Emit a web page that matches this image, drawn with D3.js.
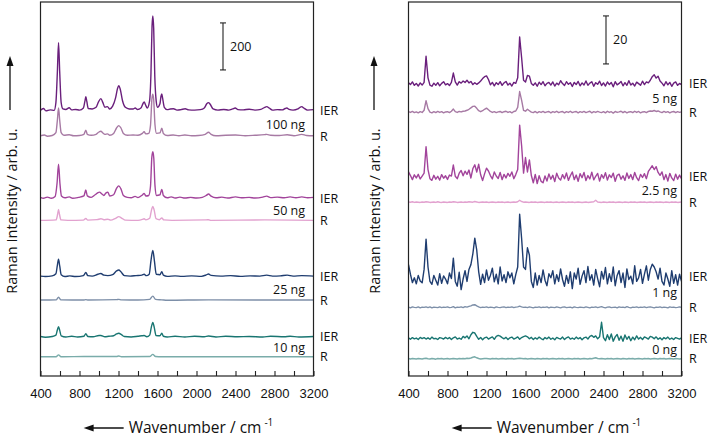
<!DOCTYPE html>
<html><head><meta charset="utf-8">
<script src="https://cdn.jsdelivr.net/npm/d3@7/dist/d3.min.js"></script>
<style>body{margin:0;background:#fff}svg{display:block}</style>
</head><body><svg id="c" width="708" height="437"></svg>
<script>
// ---------- DATA ----------
const xTickValues = [400,600,800,1000,1200,1400,1600,1800,2000,2200,2400,2600,2800,3000,3200];
const xTickLabels = [400,800,1200,1600,2000,2400,2800,3200];
const traceNames = ["IER","R"];
const leftAmounts = ["100 ng","50 ng","25 ng","10 ng"];
const rightAmounts = ["5 ng","2.5 ng","1 ng","0 ng"];
// baseline offsets (counts) for IER/R traces top to bottom
const leftOffsets = [1128,1020,756,661,423,322,166,81];
const rightOffsets = [121.7,109.9,83.0,72.4,41.4,28.6,15.7,7.2];
const leftScaleBar = [1302,1502];   // 200 counts
const rightScaleBar = [130,150];    // 20 counts

// left panel spectra: [wavenumber, intensity above baseline]
const ier100 = [[400,2],[430,10],[455,0],[500,4],[540,2],[558,35],[573,165],[585,290],[597,165],[612,35],[630,8],[660,6],[694,13],[720,4],[760,6],[800,3],[840,12],[855,40],[865,60],[875,40],[890,10],[930,8],[970,15],[995,38],[1019,52],[1040,35],[1060,15],[1087,18],[1110,8],[1140,20],[1170,55],[1190,95],[1203,107],[1218,92],[1240,45],[1270,15],[1310,8],[1350,8],[1371,12],[1395,6],[1430,12],[1450,30],[1463,38],[1478,25],[1495,12],[1518,40],[1533,160],[1544,360],[1552,404],[1561,350],[1572,150],[1587,40],[1600,15],[1625,30],[1636,62],[1644,72],[1652,55],[1670,15],[1700,5],[1730,8],[1764,9],[1800,3],[1840,5],[1884,9],[1920,4],[1980,3],[2040,5],[2080,12],[2105,30],[2123,35],[2140,28],[2170,8],[2220,3],[2280,6],[2330,3],[2370,8],[2397,12],[2425,5],[2480,4],[2540,7],[2600,3],[2660,6],[2700,15],[2721,18],[2745,12],[2780,3],[2830,5],[2880,4],[2910,10],[2926,12],[2950,6],[2990,3],[3040,8],[3065,16],[3080,18],[3100,12],[3140,3],[3200,5]];
const r100 = [[400,2],[440,5],[470,0],[520,3],[558,15],[573,68],[585,120],[597,68],[612,15],[640,4],[694,6],[740,2],[800,3],[845,8],[865,26],[880,8],[920,4],[970,8],[1000,18],[1019,21],[1040,14],[1060,8],[1087,10],[1110,4],[1150,12],[1180,35],[1203,45],[1225,35],[1250,12],[1290,4],[1350,5],[1400,4],[1445,12],[1463,19],[1480,10],[1510,12],[1528,45],[1543,160],[1552,179],[1561,155],[1574,50],[1590,12],[1625,14],[1644,34],[1660,12],[1700,3],[1760,5],[1820,2],[1880,5],[1950,2],[2020,3],[2090,8],[2123,17],[2150,8],[2200,2],[2300,4],[2400,5],[2500,2],[2600,4],[2700,7],[2721,8],[2760,4],[2850,3],[2930,6],[3000,2],[3080,8],[3130,3],[3200,2]];
const ier50 = [[400,4],[430,0],[470,5],[510,0],[550,8],[570,65],[585,145],[599,65],[615,10],[650,2],[694,6],[730,0],[790,4],[845,10],[865,35],[880,10],[920,4],[960,15],[990,24],[1005,26],[1030,18],[1050,12],[1070,22],[1090,26],[1110,10],[1150,15],[1180,42],[1203,53],[1225,40],[1250,12],[1290,4],[1330,2],[1370,8],[1400,3],[1445,14],[1463,21],[1480,10],[1510,12],[1528,50],[1542,175],[1552,198],[1562,170],[1574,55],[1590,12],[1625,15],[1644,38],[1660,12],[1700,2],[1740,6],[1780,1],[1830,5],[1880,1],[1940,4],[2000,1],[2060,4],[2100,12],[2123,18],[2150,9],[2200,2],[2260,5],[2320,1],[2400,6],[2460,2],[2540,4],[2600,1],[2680,5],[2720,9],[2760,3],[2830,5],[2900,2],[2960,6],[3020,2],[3080,6],[3140,2],[3200,4]];
const r50 = [[400,1],[560,3],[575,26],[585,48],[595,26],[610,3],[680,1],[840,2],[865,9],[885,2],[980,4],[1020,8],[1050,4],[1090,6],[1120,2],[1170,10],[1203,17],[1235,10],[1270,2],[1400,1],[1445,5],[1463,8],[1480,3],[1520,10],[1540,48],[1552,60],[1564,48],[1585,8],[1620,4],[1644,11],[1665,3],[1750,1],[2100,3],[2123,4],[2150,1],[2700,3],[3200,1]];
const ier25 = [[400,2],[450,0],[520,3],[558,12],[573,48],[585,74],[597,45],[612,8],[650,0],[700,3],[760,0],[840,4],[865,17],[885,4],[930,2],[990,10],[1019,13],[1050,6],[1090,4],[1140,8],[1180,24],[1203,28],[1225,20],[1260,4],[1320,2],[1380,4],[1440,6],[1463,10],[1485,4],[1515,10],[1533,68],[1552,111],[1568,68],[1587,10],[1625,8],[1644,21],[1660,6],[1700,1],[1780,3],[1850,1],[1950,3],[2050,1],[2100,7],[2123,11],[2150,5],[2250,2],[2350,4],[2450,1],[2550,3],[2650,2],[2720,6],[2780,2],[2860,3],[2930,6],[2990,2],[3080,4],[3200,2]];
const r25 = [[400,1],[560,2],[585,13],[610,2],[840,1],[865,3],[890,1],[1180,3],[1203,4],[1230,2],[1400,1],[1520,4],[1552,18],[1580,4],[1644,2],[1700,0],[2123,2],[3200,1]];
const ier10 = [[400,2],[450,-1],[520,2],[558,8],[573,30],[585,44],[597,28],[612,5],[660,0],[720,3],[780,0],[845,3],[865,14],[885,2],[940,1],[1000,6],[1019,6],[1060,1],[1100,3],[1150,5],[1180,13],[1203,16],[1230,10],[1260,2],[1330,0],[1400,3],[1440,5],[1463,6],[1490,1],[1520,8],[1537,42],[1552,62],[1567,40],[1585,6],[1625,5],[1644,16],[1660,3],[1700,0],[1780,3],[1880,0],[1980,3],[2080,1],[2123,4],[2200,0],[2300,3],[2420,1],[2540,2],[2680,0],[2760,3],[2900,1],[2960,3],[3050,0],[3200,2]];
const r10 = [[400,1],[560,1],[585,9],[610,1],[865,2],[1180,2],[1203,4],[1230,1],[1520,2],[1552,11],[1580,2],[1644,1],[3200,1]];

// right panel spectra: intensities every 20 cm-1 from 400 to 3200
const rightGridStart = 400, rightGridStep = 20;
const ier5 = [
0.5,-0.3,0.8,-0.6,0.2,-0.9,0.4,-0.5,0.6,11.5,
2.5,-0.5,-1.0,0.3,-0.6,0.5,-0.8,0.2,0.9,-0.4,
0.1,-0.7,0.6,4.5,0.8,-0.5,0.9,0.3,1.2,0.6,
1.5,0.4,1.0,-0.3,0.5,-0.2,0.4,1.2,2.2,3.0,
3.3,1.8,-0.4,0.6,-0.8,0.5,-0.3,0.9,-0.6,0.4,
1.0,-0.5,0.3,-0.9,0.6,0.2,2.5,19.5,11.0,1.5,
0.8,3.5,3.2,0.2,-0.6,0.4,-1.0,0.7,-0.3,0.9,
-0.8,0.2,0.6,-0.5,0.8,-0.9,0.3,-0.4,1.3,0.1,
-0.7,0.9,-0.2,0.5,-1.1,0.6,-0.3,1.0,-0.8,0.4,
-0.5,1.2,-0.6,0.3,0.9,-1.0,0.5,-0.2,1.1,-0.7,
0.4,-0.9,0.8,-0.3,0.6,-1.2,0.9,-0.4,0.2,1.0,
-0.8,0.5,-0.6,1.3,-0.5,0.3,-0.9,0.7,0.1,-0.6,
1.1,-0.3,0.8,0.4,1.5,3.0,3.8,2.4,3.2,1.2,
0.3,-0.8,0.9,-0.4,0.6,-1.0,0.3,0.8,-0.6,0.2,
-0.3];
const r5 = [
0.2,-0.1,0.3,-0.2,0.1,-0.3,0.2,-0.1,0.8,4.8,
1.5,0.0,-0.3,0.2,-0.2,0.3,-0.1,0.2,-0.3,0.1,
0.2,-0.2,0.4,1.3,0.2,-0.1,0.3,0.1,0.4,0.5,
0.8,1.2,1.8,2.4,2.5,1.6,0.6,0.2,0.6,1.2,
1.7,1.0,0.3,-0.1,0.2,-0.2,0.1,0.3,-0.2,0.2,
0.4,-0.1,0.2,-0.3,0.3,0.5,2.0,8.6,5.0,0.8,
0.4,1.2,0.6,0.0,-0.2,0.3,-0.3,0.2,-0.1,0.3,
-0.2,0.1,0.3,-0.3,0.2,-0.1,0.4,-0.2,0.1,0.3,
-0.3,0.2,-0.1,0.4,-0.2,0.1,0.3,-0.3,0.2,-0.1,
0.3,-0.2,0.1,0.4,-0.3,0.2,-0.1,0.3,0.0,-0.2,
0.2,-0.3,0.4,-0.1,0.2,-0.4,0.3,-0.1,0.1,0.4,
-0.2,0.3,-0.3,0.1,0.2,-0.2,0.4,-0.1,0.3,-0.3,
0.1,0.2,-0.2,0.3,0.5,0.4,0.7,0.3,0.5,0.1,
-0.2,0.3,-0.1,0.2,-0.3,0.1,0.3,-0.2,0.2,-0.1,
0.1];
const ier2p5 = [
2.0,0.5,-1.2,0.8,-0.5,1.0,-0.9,0.3,1.5,12.5,
3.0,-0.8,-1.5,0.6,-1.0,0.2,-1.4,0.9,-0.6,0.4,
-1.1,0.7,0.3,4.9,0.2,-0.8,1.5,2.6,0.4,2.3,
1.0,2.8,-0.5,3.4,5.0,2.0,5.2,0.8,-1.6,1.2,
3.6,2.4,0.5,-0.9,2.0,0.3,-0.7,1.8,-1.2,1.0,
-0.5,1.4,0.2,2.0,-0.8,0.9,3.0,21.5,13.0,1.5,
8.0,2.0,7.0,0.5,-2.5,1.0,-2.8,0.4,-1.9,-2.5,
0.3,-1.8,1.2,-1.0,0.6,-2.0,1.5,-0.5,-1.4,0.9,
-0.8,1.6,-1.5,0.4,2.0,-1.2,0.7,-1.9,1.3,-0.4,
1.8,-1.6,0.5,-0.9,1.9,-1.3,0.2,1.4,-1.8,0.9,
-0.6,1.7,-1.4,0.8,-0.3,1.5,-1.9,0.6,1.1,-1.0,
0.4,-1.5,1.6,-0.7,0.9,-1.2,1.8,-0.4,-1.6,1.0,
-0.3,1.3,-0.8,2.2,3.4,4.6,3.0,4.2,1.8,0.6,
2.0,-1.2,0.9,-1.8,1.4,-0.5,-1.6,1.1,-1.0,0.7,
-0.8];
const r2p5 = [
0.1,0.0,0.2,-0.1,0.1,0.0,-0.1,0.1,0.0,0.2,
0.1,-0.1,0.0,0.1,-0.1,0.2,0.0,-0.1,0.1,0.0,
-0.1,0.1,0.0,0.2,0.1,-0.1,0.0,0.1,-0.1,0.1,
0.0,0.2,0.1,0.0,0.3,0.1,-0.1,0.0,0.1,0.0,
0.1,-0.1,0.0,0.1,0.0,-0.1,0.1,0.0,0.1,-0.1,
0.0,0.1,-0.1,0.0,0.1,0.0,0.2,0.8,0.3,0.0,
0.1,0.0,-0.1,0.1,0.0,0.1,-0.1,0.0,0.1,0.0,
-0.1,0.1,0.0,0.1,-0.1,0.0,0.1,-0.1,0.0,0.1,
0.0,-0.1,0.1,0.0,0.1,-0.1,0.0,0.1,0.0,-0.1,
0.0,0.1,-0.1,0.0,0.1,0.2,0.8,0.1,0.0,-0.1,
0.1,0.0,-0.1,0.1,0.0,0.1,-0.1,0.0,0.1,0.0,
-0.1,0.1,0.0,-0.1,0.1,0.0,0.1,-0.1,0.0,0.1,
0.0,0.1,-0.1,0.0,0.1,0.0,-0.1,0.1,0.0,0.1,
0.0,-0.1,0.1,0.0,-0.1,0.1,0.0,0.1,-0.1,0.0,
0.1];
const ier1 = [
5.0,1.0,-2.5,-0.5,-3.0,0.5,-1.8,-2.6,3.0,15.6,
4.0,-2.0,-3.2,0.5,-1.5,-3.5,1.2,-2.8,0.3,-1.0,
-3.0,1.5,-0.8,7.7,-2.0,-4.0,1.8,-5.4,-1.0,2.5,
-2.0,3.0,5.0,9.5,16.0,11.0,2.0,-3.2,1.0,-2.5,
2.8,-1.5,0.5,3.5,-2.2,1.0,-3.0,4.0,-1.8,0.8,
-2.5,2.0,-0.5,1.5,-3.0,0.8,4.0,26.0,16.0,4.0,
3.0,12.0,9.0,-2.0,-4.5,1.5,-3.5,0.5,-2.5,2.8,
-1.5,-3.8,1.2,-0.5,2.5,-3.0,0.8,-2.0,3.2,-1.2,
-4.0,0.5,-2.8,2.0,-5.0,1.5,-1.0,3.5,-3.2,0.2,
2.5,-2.5,4.2,-1.5,0.8,-3.5,3.0,-0.8,-4.2,2.2,
-1.0,3.8,-3.0,1.2,-2.0,4.0,-3.8,0.5,2.5,-2.5,
1.5,-4.5,3.2,-1.2,0.2,-3.0,4.5,-2.0,-0.5,3.0,
-2.8,1.0,4.5,-1.5,3.0,5.2,4.0,2.0,-1.0,3.5,
-2.0,-3.5,1.5,-1.0,-4.0,2.5,-2.8,0.8,-3.5,1.0,
-2.0];
const r1 = [
0.1,-0.2,0.2,0.0,-0.1,0.2,-0.2,0.1,0.0,0.2,
-0.1,0.2,-0.2,0.1,0.0,-0.1,0.2,-0.1,0.1,0.0,
0.2,-0.1,0.0,0.3,-0.2,0.1,0.0,0.2,-0.1,0.3,
0.1,0.4,0.6,1.0,1.1,0.6,0.2,-0.1,0.1,0.0,
0.2,-0.1,0.1,0.0,-0.2,0.2,0.0,-0.1,0.1,0.2,
-0.1,0.1,0.0,0.2,-0.1,0.1,0.2,0.5,0.2,0.0,
0.1,-0.1,0.2,0.0,-0.2,0.1,0.0,0.2,-0.1,0.1,
0.0,0.2,-0.2,0.1,0.0,-0.1,0.2,0.0,-0.2,0.1,
0.2,-0.1,0.0,0.1,-0.2,0.2,0.0,-0.1,0.1,0.0,
-0.1,0.2,0.0,-0.2,0.1,0.0,0.2,-0.1,0.1,0.3,
0.0,-0.2,0.1,0.2,-0.1,0.0,0.1,-0.2,0.2,0.0,
0.1,-0.1,0.3,0.0,-0.2,0.1,0.0,0.2,-0.1,0.1,
0.0,0.2,-0.1,0.1,0.2,0.0,-0.2,0.1,0.0,0.2,
-0.1,0.1,0.0,-0.2,0.2,0.0,0.1,-0.1,0.0,0.2,
0.0];
const ier0 = [
0.2,-0.4,0.3,-0.2,0.1,-0.5,0.4,-0.1,0.3,-0.3,
0.2,-0.4,0.5,-0.2,0.0,-0.5,0.3,0.1,-0.3,0.4,
-0.2,0.3,-0.5,0.2,0.6,-0.3,0.1,-0.4,0.8,0.2,
1.0,-0.2,1.5,2.5,2.2,0.8,-0.4,0.3,-0.6,0.2,
0.5,-0.3,0.2,0.6,-0.4,0.8,1.2,0.9,0.3,-0.2,
0.4,-0.5,0.2,0.5,-0.3,0.1,0.6,-0.4,0.3,0.7,
1.0,0.6,-0.2,0.4,-0.5,0.2,-0.3,0.5,-0.1,-0.6,
0.3,-0.2,0.5,-0.4,0.1,-0.6,0.4,0.0,-0.3,0.5,
-0.5,0.2,0.6,-0.3,0.1,-0.4,0.5,-0.2,0.3,-0.6,
0.2,0.5,-0.3,0.8,1.2,0.4,1.0,-0.2,0.6,6.7,
0.3,-1.0,1.5,-0.5,1.8,-1.2,0.6,1.6,-0.8,0.9,
-1.2,1.4,-0.4,0.8,-1.0,0.5,-0.6,1.0,-0.3,0.4,
-0.5,0.6,0.2,-0.3,0.8,0.5,-0.2,0.6,-0.4,0.2,
-0.6,0.3,-0.2,0.5,-0.4,0.1,-0.5,0.3,0.0,-0.3,
0.2];
const r0 = [
0.1,-0.1,0.1,0.0,-0.1,0.1,0.0,-0.1,0.1,0.2,
0.0,-0.1,0.1,0.0,-0.2,0.1,0.0,0.1,-0.1,0.0,
0.1,-0.1,0.0,0.1,0.0,-0.1,0.1,0.0,0.1,0.0,
0.2,0.1,0.3,0.6,0.8,0.4,0.1,-0.1,0.0,0.1,
0.1,0.0,-0.1,0.1,0.0,0.1,-0.1,0.0,0.1,0.0,
-0.1,0.1,0.0,0.1,-0.1,0.0,0.1,0.2,0.1,0.0,
0.1,-0.1,0.0,0.1,0.0,-0.1,0.1,0.0,-0.1,0.1,
0.0,0.1,-0.1,0.0,0.1,0.0,-0.1,0.1,0.0,0.1,
-0.1,0.0,0.1,0.0,-0.1,0.1,0.0,0.1,-0.1,0.0,
0.1,0.0,-0.1,0.1,0.0,0.2,0.4,0.1,0.0,0.1,
0.0,-0.1,0.1,0.0,0.1,-0.1,0.0,0.1,0.0,-0.1,
0.1,0.0,-0.1,0.1,0.0,0.1,-0.1,0.0,0.1,0.0,
-0.1,0.1,0.0,0.1,-0.1,0.0,0.1,0.0,-0.1,0.1,
0.0,0.1,-0.1,0.0,0.1,0.0,-0.1,0.1,0.0,-0.1,
0.0];

// ---------- STYLE ----------
const traceColors = ["#6a1f7c","#a77aa4","#a2449b","#e2a2cf","#1f3d70","#7d8fa8","#187571","#7aacaa"];
const FONT = "'Open Sans', 'Noto Sans', sans-serif";
const TICKFONT = "'Liberation Sans', Arial, sans-serif";

const gridToPoints = vals => vals.map((v,i) => [rightGridStart + i*rightGridStep, v]);

const panels = [
  {x0:40.5, x1:313.5, yMax:1591, amounts:leftAmounts, offsets:leftOffsets,
   series:[ier100,r100,ier50,r50,ier25,r25,ier10,r10], curve:d3.curveMonotoneX,
   bar:leftScaleBar, barLabel:"200", barX:223, amountRight:305, sideX:320, titleX:16.5, arrowX:10},
  {x0:408.5, x1:681.5, yMax:155.8, amounts:rightAmounts, offsets:rightOffsets,
   series:[ier5,r5,ier2p5,r2p5,ier1,r1,ier0,r0].map(gridToPoints), curve:d3.curveLinear,
   bar:rightScaleBar, barLabel:"20", barX:606, amountRight:677, sideX:689, titleX:380, arrowX:374}
];

const svg = d3.select("#c");
const yTop = 2, yBot = 376;

panels.forEach((p, pi) => {
  const x = d3.scaleLinear().domain([400,3200]).range([p.x0, p.x1]);
  const y = d3.scaleLinear().domain([0, p.yMax]).range([yBot, yTop]);
  const g = svg.append("g");

  const clipId = "clip" + pi;
  svg.append("clipPath").attr("id", clipId).append("rect")
    .attr("x", p.x0).attr("y", yTop).attr("width", p.x1 - p.x0).attr("height", yBot - yTop);

  const line = d3.line().x(d => x(d[0])).curve(p.curve);
  const traces = g.append("g").attr("clip-path", `url(#${clipId})`);
  p.series.forEach((s, i) => {
    const off = p.offsets[i];
    traces.append("path")
      .attr("d", line.y(d => y(d[1] + off))(s))
      .attr("fill", "none")
      .attr("stroke", traceColors[i])
      .attr("stroke-width", 1.4)
      .attr("stroke-linejoin", "round");
  });

  // side labels IER / R
  p.offsets.forEach((off, i) => {
    g.append("text").attr("x", p.sideX).attr("y", y(off))
      .attr("dy", "0.35em").attr("font-family", FONT).attr("font-size", 12.5)
      .attr("fill", "#111").text(traceNames[i % 2]);
  });
  // amount labels
  p.amounts.forEach((a, k) => {
    const mid = (y(p.offsets[2*k]) + y(p.offsets[2*k+1])) / 2 + 1;
    g.append("text").attr("x", p.amountRight).attr("y", mid)
      .attr("dy", "0.35em").attr("text-anchor", "end")
      .attr("font-family", FONT).attr("font-size", 12.5).attr("fill", "#111").text(a);
  });

  // scale bar
  const b0 = y(p.bar[0]), b1 = y(p.bar[1]);
  const sb = g.append("g").attr("stroke", "#222").attr("stroke-width", 1.1);
  sb.append("line").attr("x1", p.barX).attr("x2", p.barX).attr("y1", b0).attr("y2", b1);
  sb.append("line").attr("x1", p.barX-3).attr("x2", p.barX+3).attr("y1", b0).attr("y2", b0);
  sb.append("line").attr("x1", p.barX-3).attr("x2", p.barX+3).attr("y1", b1).attr("y2", b1);
  g.append("text").attr("x", p.barX + 7).attr("y", (b0+b1)/2).attr("dy", "0.35em")
    .attr("font-family", FONT).attr("font-size", 12.5).attr("fill", "#111").text(p.barLabel);

  // frame
  g.append("rect").attr("x", p.x0).attr("y", yTop).attr("width", p.x1 - p.x0).attr("height", yBot - yTop)
    .attr("fill", "none").attr("stroke", "#222").attr("stroke-width", 1.2);

  // x axis
  const axis = d3.axisBottom(x).tickValues(xTickValues).tickSize(-5).tickPadding(13)
    .tickFormat(d => xTickLabels.includes(d) ? d : "");
  const ax = g.append("g").attr("transform", `translate(0,${yBot})`).call(axis);
  ax.select(".domain").remove();
  ax.selectAll(".tick line").attr("stroke", "#222").attr("stroke-width", 1.1);
  ax.selectAll(".tick text").attr("font-family", TICKFONT).attr("font-size", 13).attr("fill", "#111");

  // x title with arrow
  const cx = (p.x0 + p.x1) / 2;
  const xt = g.append("text").attr("y", 433).attr("font-family", FONT).attr("font-size", 15.5).attr("fill", "#111");
  xt.append("tspan").text("Wavenumber / cm");
  xt.append("tspan").attr("font-size", 10).attr("dy", -7).attr("dx", 3).text("-1");
  const tw = xt.node().getComputedTextLength();
  const arrowLen = 40, gap = 5;
  const total = arrowLen + gap + tw;
  const startX = cx - total / 2;
  xt.attr("x", startX + arrowLen + gap);
  g.append("line").attr("x1", startX + 8).attr("x2", startX + arrowLen).attr("y1", 428).attr("y2", 428)
    .attr("stroke", "#111").attr("stroke-width", 1.3);
  g.append("path").attr("d", `M${startX},428 L${startX+10},424.5 L${startX+10},431.5 Z`).attr("fill", "#111");

  // y title with arrow
  g.append("text").attr("transform", `translate(${p.titleX},211) rotate(-90)`)
    .attr("text-anchor", "middle").attr("font-family", FONT).attr("font-size", 14.5).attr("fill", "#111")
    .text("Raman Intensity / arb. u.");
  g.append("line").attr("x1", p.arrowX).attr("x2", p.arrowX).attr("y1", 110).attr("y2", 64)
    .attr("stroke", "#111").attr("stroke-width", 1.3);
  g.append("path").attr("d", `M${p.arrowX},56 L${p.arrowX-3.5},66 L${p.arrowX+3.5},66 Z`).attr("fill", "#111");
});
</script>
</body></html>
